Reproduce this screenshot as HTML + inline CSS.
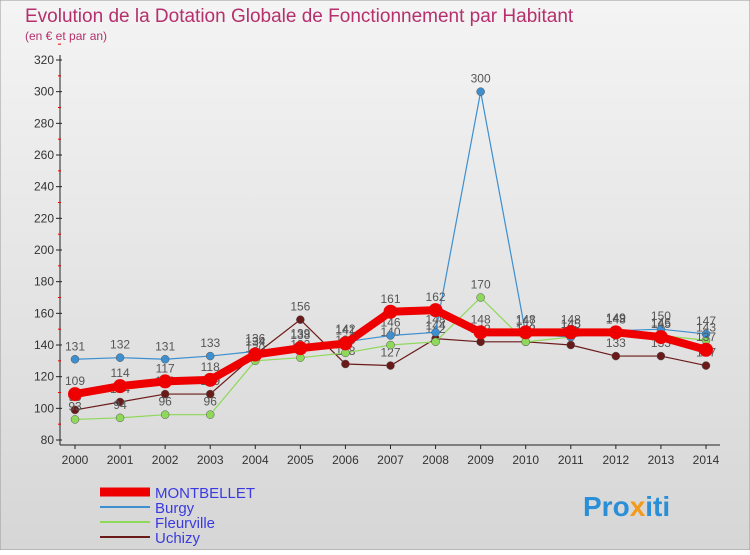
<!DOCTYPE html>
<html><head><meta charset="utf-8"><style>
body{margin:0;width:750px;height:550px;overflow:hidden;font-family:"Liberation Sans","DejaVu Sans",sans-serif}
</style></head><body>
<svg id="c" width="750" height="550" xmlns="http://www.w3.org/2000/svg">
<defs><linearGradient id="bg" x1="0" y1="0" x2="0" y2="1"><stop offset="0" stop-color="#f4f4f4"/><stop offset="1" stop-color="#d6d6d6"/></linearGradient></defs>
<rect width="750" height="550" fill="url(#bg)" stroke="#999"/>
<text x="25" y="22" font-size="19" fill="#b5306d">Evolution de la Dotation Globale de Fonctionnement par Habitant</text>
<text x="25" y="40" font-size="12" fill="#b5306d">(en € et par an)</text>
<g id="axes"></g><g id="series"></g><g id="legend"></g>
<text x="583" y="516" font-size="28" font-weight="bold" fill="#2a8fd6">Pro<tspan fill="#f39a1a">x</tspan>iti</text>
</svg>
<script>
const years=[2000,2001,2002,2003,2004,2005,2006,2007,2008,2009,2010,2011,2012,2013,2014];
const yTicks=[80,100,120,140,160,180,200,220,240,260,280,300,320];
const montbellet=[109,114,117,118,134,138,141,161,162,148,148,148,148,145,137];
const burgy=[131,132,131,133,136,139,142,146,148,300,147,145,149,150,147];
const fleurville=[93,94,96,96,130,132,135,140,142,170,142,145,149,146,143];
const uchizy=[99,104,109,109,134,156,128,127,144,142,142,140,133,133,127];
const NS="http://www.w3.org/2000/svg";
const X=i=>75+i*(706-75)/14, Y=v=>440-(v-80)*380/240;
function mk(t,a,p){const e=document.createElementNS(NS,t);for(const k in a)e.setAttribute(k,a[k]);p.appendChild(e);return e;}
const ax=document.getElementById('axes');
const yl=mk('line',{x1:60,y1:55,x2:60,y2:445,stroke:'#222'},ax);


const xl=mk('line',{x1:60,y1:445,x2:720,y2:445,stroke:'#222'},ax);


yTicks.forEach(v=>{mk('line',{x1:56,y1:Y(v),x2:62,y2:Y(v),stroke:'#222'},ax);
mk('line',{x1:58,y1:Y(v+10),x2:61,y2:Y(v+10),stroke:'#e00'},ax);
const t=mk('text',{x:54,y:Y(v)+4,'font-size':12,'text-anchor':'end',fill:'#333'},ax);t.textContent=v;

});
years.forEach((y,i)=>{mk('line',{x1:X(i),y1:445,x2:X(i),y2:449,stroke:'#222'},ax);
const t=mk('text',{x:X(i),y:464,'font-size':12,'text-anchor':'middle',fill:'#333'},ax);t.textContent=y;

});
const S=[{n:'uchizy',d:uchizy,c:'#6b1a1a',w:1.2,r:4,lab:'Uchizy'},{n:'fleurville',d:fleurville,c:'#8ed85a',w:1.2,r:4,lab:'Fleurville'},{n:'burgy',d:burgy,c:'#3d8fcf',w:1.2,r:4,lab:'Burgy'},{n:'montbellet',d:montbellet,c:'#ee0000',w:8,r:7,lab:'MONTBELLET'}];
const sg=document.getElementById('series');
S.forEach(s=>{const g=mk('g',{},sg);


mk('polyline',{points:s.d.map((v,i)=>X(i)+','+Y(v)).join(' '),fill:'none',stroke:s.c,'stroke-width':s.w},g);
s.d.forEach((v,i)=>{const p=mk('circle',{cx:X(i),cy:Y(v),r:s.r,fill:s.c,stroke:s.w>2?'none':'#555','stroke-width':0.5},g);


const t=mk('text',{x:X(i),y:Y(v)-9,'font-size':12,'text-anchor':'middle',fill:'#555'},g);t.textContent=v;});});
const lg=document.getElementById('legend');
[S[3],S[2],S[1],S[0]].forEach((s,k)=>{const y=492+k*15;const g=mk('g',{},lg);


mk('line',{x1:100,y1:y,x2:150,y2:y,stroke:s.c,'stroke-width':s.w>2?9:2},g);
const t=mk('text',{x:155,y:y+6,'font-size':15,fill:'#3a3ae0'},g);t.textContent=s.lab;});
</script>
</body></html>
